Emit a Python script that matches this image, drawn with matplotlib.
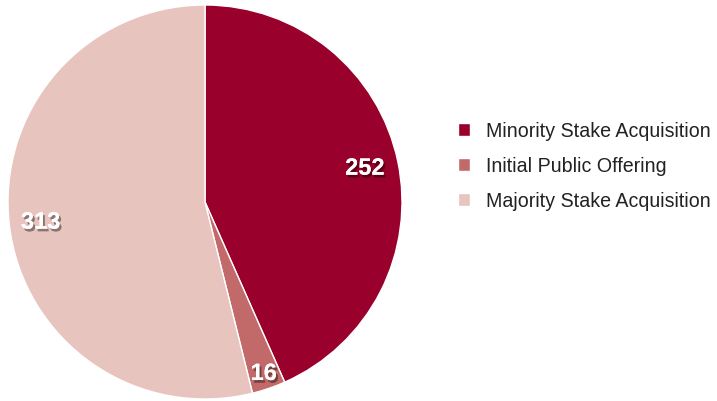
import numpy as np
import matplotlib.pyplot as plt
import matplotlib.patheffects as pe

labels = ['Minority Stake Acquisition', 'Initial Public Offering', 'Majority Stake Acquisition']
values = [252, 16, 313]
colors = ['#99002b', '#c26a6a', '#e8c4bf']

plt.rcParams['font.family'] = ['Liberation Sans', 'DejaVu Sans']

fig = plt.figure(figsize=(7.17, 4.02), dpi=100)
ax = fig.add_axes([8 / 717, 2 / 402, 394 / 717, 394 / 402])

wedges, _ = ax.pie(values, colors=colors, startangle=90, counterclock=False,
                   wedgeprops=dict(edgecolor='white', linewidth=1))
ax.set_aspect('equal')
ax.set_xlim(-1, 1)
ax.set_ylim(-1, 1)

shadow = [pe.withSimplePatchShadow(offset=(1.5, -2), shadow_rgbFace='black', alpha=0.4),
          pe.Normal()]
dists = [0.83, 0.92, 0.84]
for w, v, d in zip(wedges, values, dists):
    ang = np.deg2rad((w.theta1 + w.theta2) / 2)
    ax.text(d * np.cos(ang), d * np.sin(ang), str(v), ha='center', va='center',
            color='white', fontsize=17, fontweight='bold', path_effects=shadow)

fig.legend(wedges, labels, loc='center left', bbox_to_anchor=(0.6285, 0.585),
           frameon=False, fontsize=14.1, handlelength=0.6, handleheight=0.6,
           handletextpad=0.8, labelspacing=0.82, borderaxespad=0,
           labelcolor='#222222')

fig.savefig('out.png', dpi=100)
